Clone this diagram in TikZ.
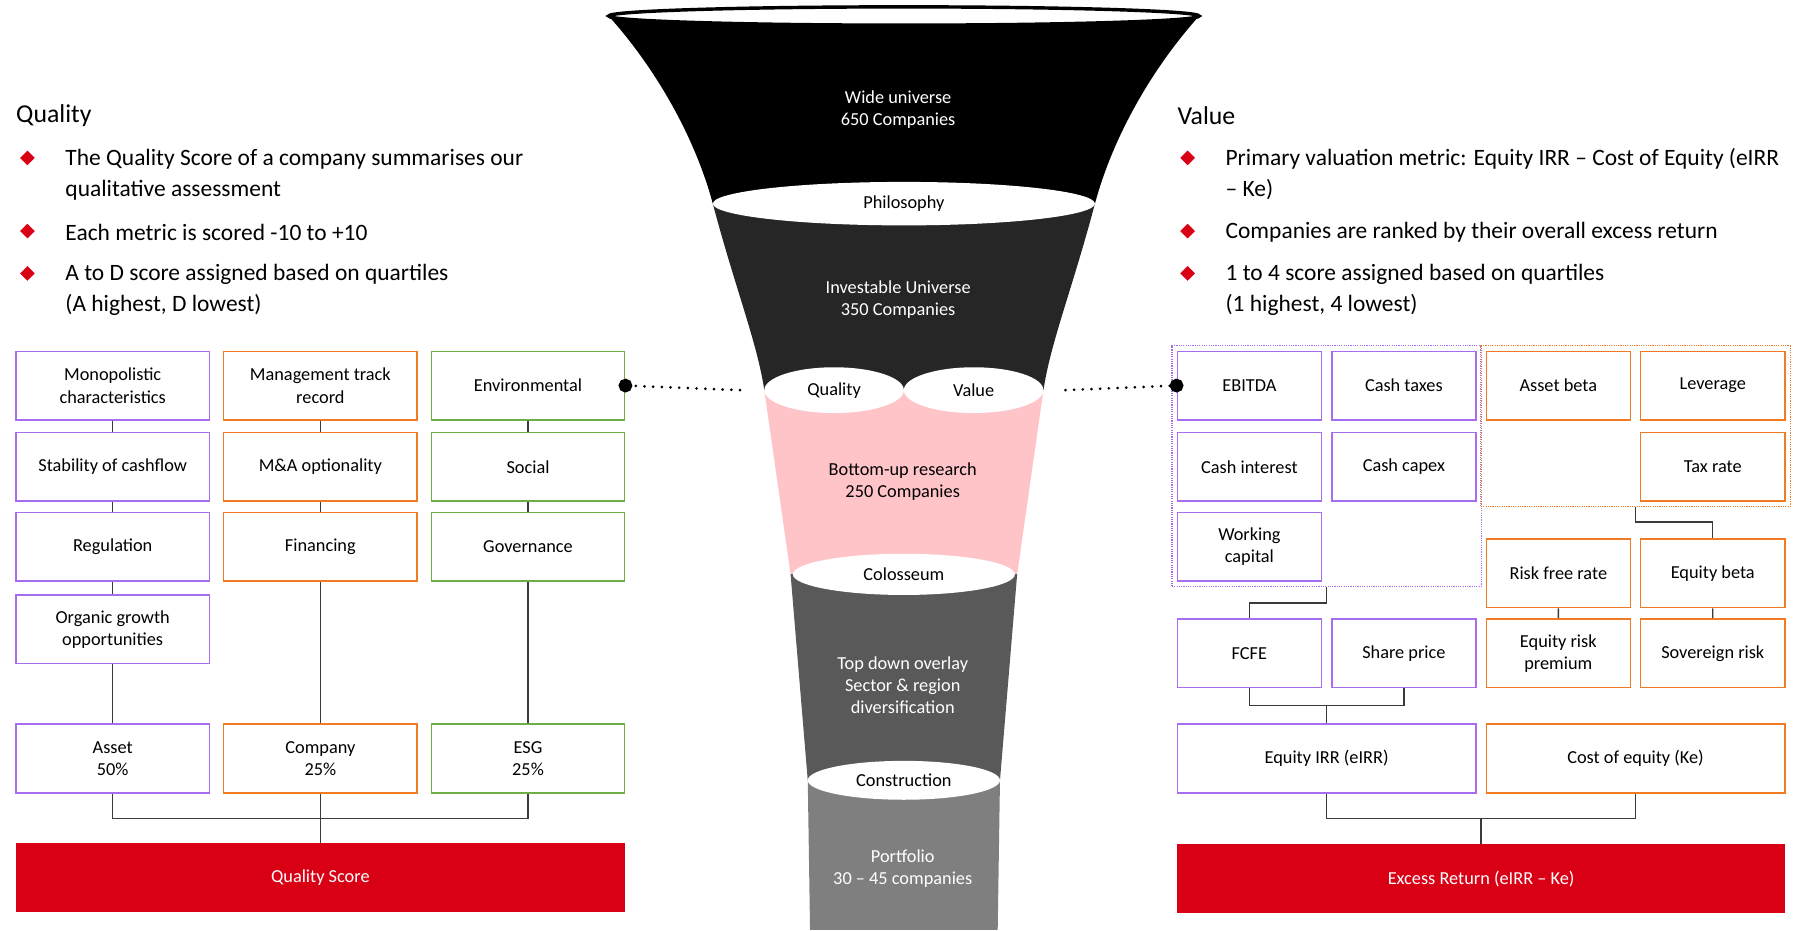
\documentclass[tikz,border=0pt]{standalone}
\usepackage{fontspec}
\setmainfont{Carlito}
\usepackage{tikz}
\usetikzlibrary{shapes.geometric, arrows.meta, positioning, fit, calc}
\definecolor{qvpurple}{HTML}{A66DF0}
\definecolor{qvorange}{HTML}{F07B22}
\definecolor{qvgreen}{HTML}{70AD47}
\definecolor{qvred}{HTML}{D90016}
\definecolor{qvpink}{HTML}{FFC4C8}
\definecolor{qvdark}{HTML}{262626}
\definecolor{qvmid}{HTML}{595959}
\definecolor{qvgrey}{HTML}{7F7F7F}
\definecolor{qvline}{HTML}{3A3A3A}
\newcommand{\fnltext}{\fontsize{16}{19.5}\selectfont}
\newcommand{\fnlbullet}{\fontsize{20.5}{27}\selectfont}
\newcommand{\fnlhead}{\fontsize{22.5}{27}\selectfont}

\begin{document}
\begin{tikzpicture}[x=1pt, y=-1pt,
        metric/.style={draw, line width=1.3pt, fill=white, minimum width=169pt, minimum height=60pt, align=center, font=\fnltext, inner sep=2pt},
        vmetric/.style={metric, minimum width=126pt},
        scorebar/.style={fill=qvred, text=white, minimum height=60pt, font=\fnltext, inner sep=0pt},
        ring/.style={ellipse, fill=white, inner sep=0pt, font=\fnltext},
        bandtext/.style={align=center, font=\fnltext, text=white},
        bullet/.style={diamond, fill=qvred, inner sep=0pt, minimum size=13pt},
        note/.style={anchor=west, align=left, font=\fnlbullet, inner sep=0pt},
        group/.style={draw, line width=0.9pt, dash pattern=on 1pt off 1pt, inner sep=4pt},
        wire/.style={draw=qvline, line width=1.2pt},
        link/.style={line width=2.6pt, dash pattern=on 0pt off 7.6pt, line cap=round, -{Circle[length=12pt]}, shorten >=-6pt}
    ]
        \useasboundingbox (0,0) rectangle (1568,813);

        % funnel bands
        \begin{scope}
            \clip (532,14) .. controls (575,62) and (608,122) .. (623,178)
                .. controls (642,250) and (662,300) .. (668,341) -- (691,502) -- (706,682) -- (708,813)
                -- (872,813) -- (874,682) -- (889,502) -- (912,341)
                .. controls (918,300) and (938,250) .. (957,178)
                .. controls (972,122) and (1005,62) .. (1048,14) -- cycle;
            \fill [black] (520,0) rectangle (1060,178);
            \fill [qvdark] (520,178) rectangle (1060,341);
            \fill [qvpink] (520,341) rectangle (1060,502);
            \fill [qvmid] (520,502) rectangle (1060,682);
            \fill [qvgrey] (520,682) rectangle (1060,813);
        \end{scope}
        \node (rim) [ellipse, draw, line width=3pt, fill=white, minimum width=516pt, minimum height=16pt, inner sep=0pt] at (790,14) {};
        \node (philo) [ring, minimum width=334pt, minimum height=38pt] at (790,178) {Philosophy};
        \node (qual) [ring, minimum width=122pt, minimum height=40pt] at (729,341) {Quality};
        \node (val) [ring, minimum width=122pt, minimum height=40pt] at (851,341) {Value};
        \node (colo) [ring, minimum width=194pt, minimum height=36pt] at (790,502) {Colosseum};
        \node (constr) [ring, minimum width=168pt, minimum height=34pt] at (790,682) {Construction};

        \node (wide) [bandtext] at (785,96) {Wide universe\\650 Companies};
        \node (invest) [bandtext] at (785,262) {Investable Universe\\350 Companies};
        \node (bottom) [bandtext, text=black] at (789,421) {Bottom-up research\\250 Companies};
        \node (overlay) [bandtext] at (789,599) {Top down overlay\\Sector \& region\\diversification};
        \node (port) [bandtext] at (789,759) {Portfolio\\30 -- 45 companies};

        % quality side
        \node (qhead) [anchor=west, font=\fnlhead, inner sep=0pt] at (14,101) {Quality};
        \node (qb1) [bullet] at (24,138) {};
        \node (qn1) [note] at (57,152.5) {The Quality Score of a company summarises our\\qualitative assessment};
        \node (qb2) [bullet] at (24,202) {};
        \node (qn2) [note] at (57,203) {Each metric is scored -10 to +10};
        \node (qb3) [bullet] at (24,239) {};
        \node (qn3) [note] at (57,253.5) {A to D score assigned based on quartiles\\(A highest, D lowest)};

        \node (mono) [metric, draw=qvpurple] at (98.5,337) {Monopolistic\\characteristics};
        \node (stab) [metric, draw=qvpurple, below=9.7pt of mono] {Stability of cashflow};
        \node (reg) [metric, draw=qvpurple, below=8.7pt of stab] {Regulation};
        \node (organic) [metric, draw=qvpurple, below=10.7pt of reg] {Organic growth\\opportunities};
        \node (mgmt) [metric, draw=qvorange, right=11.2pt of mono] {Management track\\record};
        \node (mna) [metric, draw=qvorange, below=9.7pt of mgmt] {M\&A optionality};
        \node (fin) [metric, draw=qvorange, below=8.7pt of mna] {Financing};
        \node (env) [metric, draw=qvgreen, right=11.2pt of mgmt] {Environmental};
        \node (soc) [metric, draw=qvgreen, below=9.7pt of env] {Social};
        \node (gov) [metric, draw=qvgreen, below=8.7pt of soc] {Governance};
        \node (asset) [metric, draw=qvpurple] at (98.5,663) {Asset\\50\%};
        \node (comp) [metric, draw=qvorange, right=11.2pt of asset] {Company\\25\%};
        \node (esg) [metric, draw=qvgreen, right=11.2pt of comp] {ESG\\25\%};
        \node (qscore) [scorebar, minimum width=532pt] at (280,767) {Quality Score};

        \draw [wire] (mono) -- (stab);
        \draw [wire] (stab) -- (reg);
        \draw [wire] (reg) -- (organic);
        \draw [wire] (organic) -- (asset);
        \draw [wire] (mgmt) -- (mna);
        \draw [wire] (mna) -- (fin);
        \draw [wire] (fin) -- (comp);
        \draw [wire] (env) -- (soc);
        \draw [wire] (soc) -- (gov);
        \draw [wire] (gov) -- (esg);
        \draw [wire] (asset.south) -- ++(0,22) -| (esg.south);
        \draw [wire] (comp.south) -- (comp.south |- qscore.north);

        % value side
        \node (vhead) [anchor=west, font=\fnlhead, inner sep=0pt] at (1029,101) {Value};
        \node (vb1) [bullet] at (1038,138) {};
        \node (vn1) [note] at (1071,152.5) {Primary valuation metric: Equity IRR -- Cost of Equity (eIRR\\-- Ke)};
        \node (vb2) [bullet] at (1038,202) {};
        \node (vn2) [note] at (1071,203) {Companies are ranked by their overall excess return};
        \node (vb3) [bullet] at (1038,239) {};
        \node (vn3) [note] at (1071,253.5) {1 to 4 score assigned based on quartiles\\(1 highest, 4 lowest)};

        \node (ebitda) [vmetric, draw=qvpurple] at (1092,337) {EBITDA};
        \node (ctax) [vmetric, draw=qvpurple, right=7.7pt of ebitda] {Cash taxes};
        \node (abeta) [vmetric, draw=qvorange, right=7.7pt of ctax] {Asset beta};
        \node (lev) [vmetric, draw=qvorange, right=7.7pt of abeta] {Leverage};
        \node (cint) [vmetric, draw=qvpurple, below=9.7pt of ebitda] {Cash interest};
        \node (capex) [vmetric, draw=qvpurple, below=9.7pt of ctax] {Cash capex};
        \node (taxr) [vmetric, draw=qvorange, below=9.7pt of lev] {Tax rate};
        \node (wcap) [vmetric, draw=qvpurple, below=8.7pt of cint] {Working\\capital};
        \node (rfree) [vmetric, draw=qvorange] at (1362,501) {Risk free rate};
        \node (ebeta) [vmetric, draw=qvorange, right=7.7pt of rfree] {Equity beta};
        \node (fcfe) [vmetric, draw=qvpurple] at (1092,571) {FCFE};
        \node (share) [vmetric, draw=qvpurple, right=7.7pt of fcfe] {Share price};
        \node (erp) [vmetric, draw=qvorange, right=7.7pt of share] {Equity risk\\premium};
        \node (sov) [vmetric, draw=qvorange, right=7.7pt of erp] {Sovereign risk};
        \node (eirr) [metric, draw=qvpurple, minimum width=261pt] at (1159.5,663) {Equity IRR (eIRR)};
        \node (coe) [metric, draw=qvorange, minimum width=261pt, right=7.7pt of eirr] {Cost of equity (Ke)};
        \node (xret) [scorebar, minimum width=531pt] at (1294.5,768) {Excess Return (eIRR -- Ke)};
        \node (pgroup) [group, draw=qvpurple, fit=(ebitda)(capex)(wcap)] {};
        \node (ogroup) [group, draw=qvorange, fit=(abeta)(lev)(taxr)] {};

        \coordinate (fbus) at ($(eirr.north)+(0,-16)$);
        \draw [wire] (pgroup.south) -- ++(0,14) -| (fcfe.north);
        \draw [wire] (ogroup.south) -- ++(0,13) -| (ebeta.north);
        \draw [wire] (rfree) -- (erp);
        \draw [wire] (ebeta) -- (sov);
        \draw [wire] (fcfe.south) |- (fbus) -| (share.south);
        \draw [wire] (eirr.north) -- (fbus);
        \draw [wire] (eirr.south) -- ++(0,22) -| (coe.south);
        \draw [wire] (xret.north) -- ++(0,-23);

        % links from the funnel
        \coordinate (qtip) at ([xshift=-21pt]qual.west);
        \coordinate (vtip) at ([xshift=19pt]val.east);
        \draw [link] (qtip) -- (env.east);
        \draw [link] (vtip) -- (ebitda.west);
    \end{tikzpicture}
\end{document}
